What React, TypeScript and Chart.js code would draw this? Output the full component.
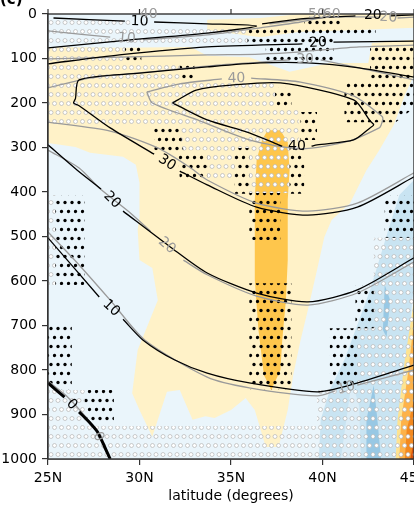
import React, { useEffect, useRef } from 'react';
import { Chart, registerables } from 'chart.js';

Chart.register(...registerables);

type P = [number, number] | null;

// ---------- axes ----------
const latTicks = [25, 30, 35, 40, 45];
const pressureTicks = [0, 100, 200, 300, 400, 500, 600, 700, 800, 900, 1000];
const xTitle = 'latitude (degrees)';
const panelTag = '(c)';

// ---------- filled regions (lat, hPa) ----------
const domain: P[] = [[25, 0], [45, 0], [45, 1000], [25, 1000]];
const yellowMain: P[] = [[25, 74], [28.9, 76], [32.8, 74], [33.7, 94], [36.0, 97], [38.2, 130], [40.4, 110], [42.5, 110], [42.7, 65], [45, 58], [45, 137], [44.5, 182], [43.9, 249], [43.1, 306], [42.4, 351], [41.5, 425], [40.5, 463], [40.1, 501], [39.7, 575], [39.2, 665], [38.8, 733], [38.4, 811], [38.1, 890], [37.6, 973], [36.9, 973], [36.3, 890], [35.8, 863], [35.0, 890], [34.1, 908], [33.6, 904], [32.9, 912], [32.2, 845], [31.5, 849], [31.0, 912], [30.7, 950], [30.0, 890], [29.6, 852], [29.9, 755], [31.0, 643], [30.7, 571], [30.0, 553], [29.9, 485], [30.0, 456], [30.0, 380], [29.8, 339], [29.1, 321], [27.3, 312], [26.5, 299], [25, 290]];
const yellowTop: P[] = [[33.7, 13], [36.6, 9], [38.8, 0], [45, 0], [45, 31], [42, 36], [38.8, 40], [36.6, 52], [33.7, 36]];
const orangeColumn: P[] = [[36.7, 283], [37.0, 261], [37.7, 261], [38.1, 288], [38.2, 351], [38.1, 418], [38.1, 553], [38.0, 643], [37.8, 733], [37.7, 800], [37.2, 845], [36.8, 811], [36.5, 710], [36.3, 598], [36.3, 418], [36.4, 328]];
const blueMid: P[] = [[45, 373], [44.2, 407], [43.6, 485], [43.1, 553], [42.6, 620], [42.0, 688], [41.2, 777], [40.4, 845], [39.9, 912], [39.8, 1000], [44.0, 1000], [44.1, 935], [44.4, 845], [44.7, 755], [44.9, 643], [45, 620]];
const blueLightStreak: P[] = [[41.6, 825], [41.0, 1000], [42.1, 1000], [42.0, 880]];
const blueDarkA: P[] = [[43.4, 609], [43.3, 710], [43.5, 726], [43.7, 643]];
const blueDarkB: P[] = [[42.8, 834], [42.4, 912], [42.4, 1000], [43.2, 1000], [43.0, 912]];
const warmYellow: P[] = [[45, 643], [44.5, 777], [44.1, 912], [44.0, 1000], [45, 1000]];
const warmOrange: P[] = [[45, 688], [44.7, 800], [44.3, 912], [44.2, 1000], [45, 1000]];
const warmDeep: P[] = [[45, 867], [44.6, 935], [44.5, 1000], [45, 1000]];
const warmRed: P[] = [[45, 957], [44.8, 1000], [45, 1000]];

// ---------- stippling: open circles ----------
const circTop: P[] = [[25, 11], [29.5, 11], [29.5, 31], [35.9, 31], [35.9, 70], [29.2, 70], [29.2, 110], [32.2, 110], [32.2, 151], [37.4, 151], [37.4, 207], [38.7, 207], [38.7, 301], [38.2, 301], [38.2, 402], [36.0, 402], [36.0, 301], [35.2, 301], [35.2, 369], [33.7, 369], [33.7, 306], [32.3, 306], [32.2, 247], [25, 247]];
const circBottom: P[] = [[42.7, 503], [45, 503], [45, 1000], [25, 1000], [25, 845], [27.0, 845], [27.0, 926], [39.7, 926], [39.7, 845], [41.9, 845], [41.9, 706], [42.8, 706], [42.8, 503]];
const circLeft: P[] = [[25, 407], [25.4, 407], [25.4, 609], [25, 609]];

// ---------- stippling: black dots ----------
const dotA: P[] = [[29.2, 70], [30.1, 70], [30.1, 108], [29.2, 108]];
const dotB: P[] = [[32.2, 110], [33.0, 110], [33.0, 150], [32.2, 150]];
const dotC: P[] = [[30.8, 249], [32.2, 249], [32.4, 306], [33.7, 310], [33.7, 369], [32.2, 369], [32.1, 310], [30.8, 306]];
const dotD: P[] = [[35.2, 301], [36.0, 301], [36.0, 404], [35.2, 404]];
const dotE: P[] = [[38.2, 301], [39.0, 301], [39.0, 404], [38.2, 404]];
const dotF: P[] = [[36.0, 402], [37.7, 402], [37.7, 508], [36.0, 508]];
const dotG: P[] = [[39.0, 11], [41.1, 11], [41.1, 31], [42.9, 31], [42.9, 49], [40.6, 49], [40.6, 108], [36.9, 108], [36.9, 70], [35.9, 70], [35.9, 31], [39.0, 31]];
const dotH: P[] = [[42.6, 70], [45, 70], [45, 211], [44.0, 243], [41.2, 243], [41.2, 153], [42.6, 153]];
const dotI: P[] = [[37.4, 166], [38.3, 166], [38.3, 207], [37.4, 207]];
const dotJ: P[] = [[38.8, 220], [39.7, 220], [39.7, 283], [38.8, 283]];
const dotK: P[] = [[43.4, 407], [45, 407], [45, 503], [43.4, 503]];
const dotL: P[] = [[36.0, 605], [38.3, 605], [38.3, 845], [36.0, 845]];
const dotM: P[] = [[41.8, 609], [42.8, 609], [42.8, 706], [41.8, 706]];
const dotN: P[] = [[40.4, 706], [41.9, 706], [41.9, 845], [40.4, 845]];
const dotO: P[] = [[25.4, 407], [27.0, 407], [27.0, 609], [25.4, 609]];
const dotP: P[] = [[25, 699], [26.3, 699], [26.3, 845], [25, 845]];
const dotQ: P[] = [[27.0, 845], [28.6, 845], [28.6, 924], [27.0, 924]];

// ---------- contours (null = label break) ----------
const black10Top: P[] = [[25.3, 9], [29.2, 16], null, [30.8, 18], [33.7, 22], [36.4, 27], [33.7, 43], [29.5, 58], [25, 76]];
const black20Upper: P[] = [[25, 112], [28.9, 92], [33.7, 74], [38.9, 67], null, [40.6, 63], [45, 61]];
const black20Top: P[] = [[36.7, 22], [38.8, 11], [41.8, 4], null, [43.7, 4], [45, 2]];
const black30: P[] = [[45, 142], [42, 121], [39.2, 110], [36.6, 110], [33.7, 119], [30, 133], [26.7, 148], [26.5, 190], [26.4, 200], [26.7, 206], [28.4, 256], [30.8, 315], null, [32.2, 353], [33.7, 384], [36.4, 434], [39.2, 452], [41.9, 434], [45, 366]];
const black40: P[] = [[31.8, 200], [32.1, 193], [33.1, 171], [35, 160], [37.7, 155], [41.7, 193], [42.6, 240], [42.8, 249], [42.6, 256], [41.7, 283], [39.7, 294], [39.4, 297], null, [37.8, 297], [37.6, 294], [36.0, 267], [33.7, 238], [32.1, 206], [31.8, 200]];
const black20Lower: P[] = [[25, 294], [26.6, 351], [27.9, 393], null, [29.1, 443], [31.7, 524], [33.7, 582], [36.4, 627], [39.2, 647], [41.9, 620], [45, 548]];
const black10Lower: P[] = [[25, 503], [27.8, 636], null, [29.1, 686], [30.2, 733], [31.9, 777], [33.7, 807], [36, 829], [39.7, 849], [41.5, 834], [45, 789]];
const black0: P[] = [[25, 829], [25.9, 861], null, [26.7, 894], [27.3, 919], [27.7, 939], [28.4, 1000]];

const gray10Top: P[] = [[25, 38], [28.4, 52], null, [30.2, 58], [33.7, 47], [36.6, 31], [38.8, 18], [40.4, 4]];
const gray20Upper: P[] = [[25, 101], [28.9, 97], [33.7, 92], [36.6, 90], [38.8, 85], [42, 74], [45, 70]];
const gray20Top: P[] = [[37.1, 22], [40.4, 7], [43.1, 7], null, [44.1, 9], [45, 7]];
const gray30Upper: P[] = [[25, 166], [27.3, 144], [30.6, 130], [33.7, 117], [36.6, 108], [38.2, 103], null, [39.9, 103], [42, 121], [45, 148]];
const gray40: P[] = [[30.4, 175], [32.2, 157], [34.5, 146], null, [36.1, 144], [38.8, 153], [41.7, 184], [43.2, 228], [43.3, 234], [43.2, 250], [43.1, 256], [41.5, 285], [38.8, 303], [36, 283], [33.3, 240], [30.7, 200], [30.4, 175]];
const gray30Lower: P[] = [[25, 243], [28.4, 263], [31, 301], [32.8, 346], [33.7, 373], [36.4, 425], [39.2, 443], [41.9, 425], [45, 357]];
const gray20Lower: P[] = [[25, 306], [26.7, 346], [27.8, 391], [29.5, 447], [30.6, 488], null, [32.4, 553], [33.7, 586], [36.4, 634], [39.2, 654], [41.9, 627], [45, 557]];
const gray10Lower: P[] = [[25, 490], [26.7, 564], [28.4, 643], [30.3, 733], [33.7, 816], [36, 840], [39.7, 858], [40.7, 847], null, [41.9, 834], [45, 800]];
const gray0: P[] = [[25, 825], [26, 858], [27.2, 912], [27.5, 930], null, [28, 971], [28.4, 1000]];

const blackLevels = [10, 20, 20, 30, 40, 20, 10, 0];
const grayLevels = [10, 20, 20, 30, 40, 30, 20, 10, 0];
// gray labels sitting on the top frame (lat, hPa, level)
const grayTopLabels: [number, number, number][] = [[30.5, 0, 40], [39.7, 0, 50], [40.5, 0, 60]];

const FONT = 'DejaVu Sans';

const toData = (pts: P[]) => pts.map((p) => (p ? { x: p[0], y: p[1] } : { x: null, y: null }));

function makePattern(ctx: CanvasRenderingContext2D, kind: 'dot' | 'circle') {
  const c = document.createElement('canvas');
  c.width = 7;
  c.height = 18;
  const g = c.getContext('2d')!;
  const centers = [[2, 4.5], [5.5, 13.5]];
  for (const [cx, cy] of centers) {
    for (const dx of [-7, 0, 7]) {
      for (const dy of [-18, 0, 18]) {
        g.beginPath();
        if (kind === 'dot') {
          g.arc(cx + dx, cy + dy, 1.65, 0, Math.PI * 2);
          g.fillStyle = '#000';
          g.fill();
        } else {
          g.arc(cx + dx, cy + dy, 2.0, 0, Math.PI * 2);
          g.fillStyle = '#ffffff';
          g.fill();
          g.lineWidth = 0.7;
          g.strokeStyle = '#b4b4b4';
          g.stroke();
        }
      }
    }
  }
  return ctx.createPattern(c, 'repeat')!;
}

export default function App() {
  const ref = useRef<HTMLCanvasElement | null>(null);

  useEffect(() => {
    const canvas = ref.current!;
    const ctx = canvas.getContext('2d')!;
    Chart.defaults.font.family = FONT;
    const dotPat = makePattern(ctx, 'dot');
    const circPat = makePattern(ctx, 'circle');

    const fills: [P[], any][] = [
      [domain, '#eaf5fb'],
      [yellowMain, '#fff2c8'],
      [yellowTop, '#fff2c8'],
      [orangeColumn, '#fec64c'],
      [blueMid, '#c9e4f2'],
      [blueLightStreak, '#dcedf7'],
      [blueDarkA, '#98c8e4'],
      [blueDarkB, '#98c8e4'],
      [warmYellow, '#fee391'],
      [warmOrange, '#fdb24a'],
      [warmDeep, '#f3891f'],
      [warmRed, '#d8540e'],
      [circTop, circPat],
      [circBottom, circPat],
      [circLeft, circPat],
      ...[dotA, dotB, dotC, dotD, dotE, dotF, dotG, dotH, dotI, dotJ, dotK, dotL, dotM, dotN, dotO, dotP, dotQ].map((d) => [d, dotPat] as [P[], any]),
    ];

    const grayLines = [gray10Top, gray20Upper, gray20Top, gray30Upper, gray40, gray30Lower, gray20Lower, gray10Lower, gray0];
    const blackLines = [black10Top, black20Upper, black20Top, black30, black40, black20Lower, black10Lower, black0];

    const contours = [
      ...grayLines.map((pts, i) => ({ pts, level: grayLevels[i], color: '#9a9a9a', width: 1.3 })),
      ...blackLines.map((pts, i) => ({ pts, level: blackLevels[i], color: '#000000', width: pts === black0 ? 3 : 1.3 })),
    ];

    let layer = 0;
    const datasets: any[] = [];
    for (const [pts, color] of fills) {
      datasets.push({
        data: toData(pts),
        fill: 'shape',
        backgroundColor: color,
        borderWidth: 0,
        pointRadius: 0,
        tension: 0,
        order: 1000 - layer++,
      });
    }
    for (const c of contours) {
      datasets.push({
        data: toData(c.pts),
        fill: false,
        borderColor: c.color,
        borderWidth: c.width,
        pointRadius: 0,
        tension: 0.25,
        spanGaps: false,
        borderJoinStyle: 'round',
        order: 1000 - layer++,
      });
    }

    const decor = {
      id: 'decor',
      afterDatasetsDraw(chart: any) {
        const { ctx: g, chartArea: a } = chart;
        const xs = chart.scales.x;
        const ys = chart.scales.y;
        g.save();
        // frame
        g.strokeStyle = '#333';
        g.lineWidth = 1.4;
        g.strokeRect(a.left, a.top, a.right - a.left, a.bottom - a.top);
        // top ticks
        g.lineWidth = 1.2;
        for (const v of latTicks) {
          const px = xs.getPixelForValue(v);
          g.beginPath();
          g.moveTo(px, a.top);
          g.lineTo(px, a.top - 5);
          g.stroke();
        }
        // contour labels
        g.font = `14px ${FONT}`;
        g.textAlign = 'center';
        g.textBaseline = 'middle';
        for (const c of contours) {
          const i = c.pts.indexOf(null);
          if (i < 1) continue;
          const p0 = c.pts[i - 1]!;
          const p1 = c.pts[i + 1]!;
          const x0 = xs.getPixelForValue(p0[0]);
          const y0 = ys.getPixelForValue(p0[1]);
          const x1 = xs.getPixelForValue(p1[0]);
          const y1 = ys.getPixelForValue(p1[1]);
          let ang = Math.atan2(y1 - y0, x1 - x0);
          if (ang > Math.PI / 2) ang -= Math.PI;
          if (ang < -Math.PI / 2) ang += Math.PI;
          g.save();
          g.translate((x0 + x1) / 2, (y0 + y1) / 2);
          g.rotate(ang);
          g.fillStyle = c.color;
          g.fillText(String(c.level), 0, 0);
          g.restore();
        }
        g.fillStyle = '#9a9a9a';
        for (const [lat, p, lv] of grayTopLabels) {
          g.fillText(String(lv), xs.getPixelForValue(lat), ys.getPixelForValue(p));
        }
        // panel tag (cropped at top)
        g.fillStyle = '#000';
        g.textAlign = 'left';
        g.textBaseline = 'alphabetic';
        g.font = `bold 15px ${FONT}`;
        g.fillText(panelTag, 0, 4);
        g.restore();
      },
    };

    const chart = new Chart(canvas, {
      type: 'line',
      data: { datasets },
      options: {
        animation: false,
        responsive: false,
        events: [],
        layout: { padding: { top: 14, right: 26, left: 0, bottom: 0 } },
        plugins: { legend: { display: false }, tooltip: { enabled: false } },
        scales: {
          x: {
            type: 'linear',
            position: 'bottom',
            min: 25,
            max: 45,
            afterBuildTicks: (s: any) => {
              s.ticks = latTicks.map((v) => ({ value: v }));
            },
            afterFit: (s: any) => {
              s.height = 50;
            },
            ticks: {
              callback: (v: any) => `${v}N`,
              color: '#000',
              font: { family: FONT, size: 14 },
              padding: 5,
              maxRotation: 0,
              autoSkip: false,
            },
            grid: { drawOnChartArea: false, drawTicks: true, tickLength: 6, color: '#333', lineWidth: 1.2 },
            border: { display: true, color: '#333', width: 1.4 },
            title: {
              display: true,
              text: xTitle,
              color: '#000',
              font: { family: FONT, size: 14 },
              padding: { top: 0, bottom: 4 },
            },
          },
          y: {
            type: 'linear',
            position: 'left',
            min: 0,
            max: 1000,
            reverse: true,
            afterBuildTicks: (s: any) => {
              s.ticks = pressureTicks.map((v) => ({ value: v }));
            },
            afterFit: (s: any) => {
              s.width = 48;
            },
            ticks: {
              callback: (v: any) => String(v),
              color: '#000',
              font: { family: FONT, size: 14 },
              padding: 5,
              autoSkip: false,
            },
            grid: { drawOnChartArea: false, drawTicks: true, tickLength: 6, color: '#333', lineWidth: 1.2 },
            border: { display: true, color: '#333', width: 1.4 },
          },
        },
      } as any,
      plugins: [decor],
    });
    return () => chart.destroy();
  }, []);

  return (
    <div style={{ position: 'fixed', left: 0, top: 0, width: 414, height: 509, overflow: 'hidden', background: '#fff' }}>
      <canvas ref={ref} width={440} height={509} style={{ display: 'block', width: 440, height: 509 }} />
    </div>
  );
}
